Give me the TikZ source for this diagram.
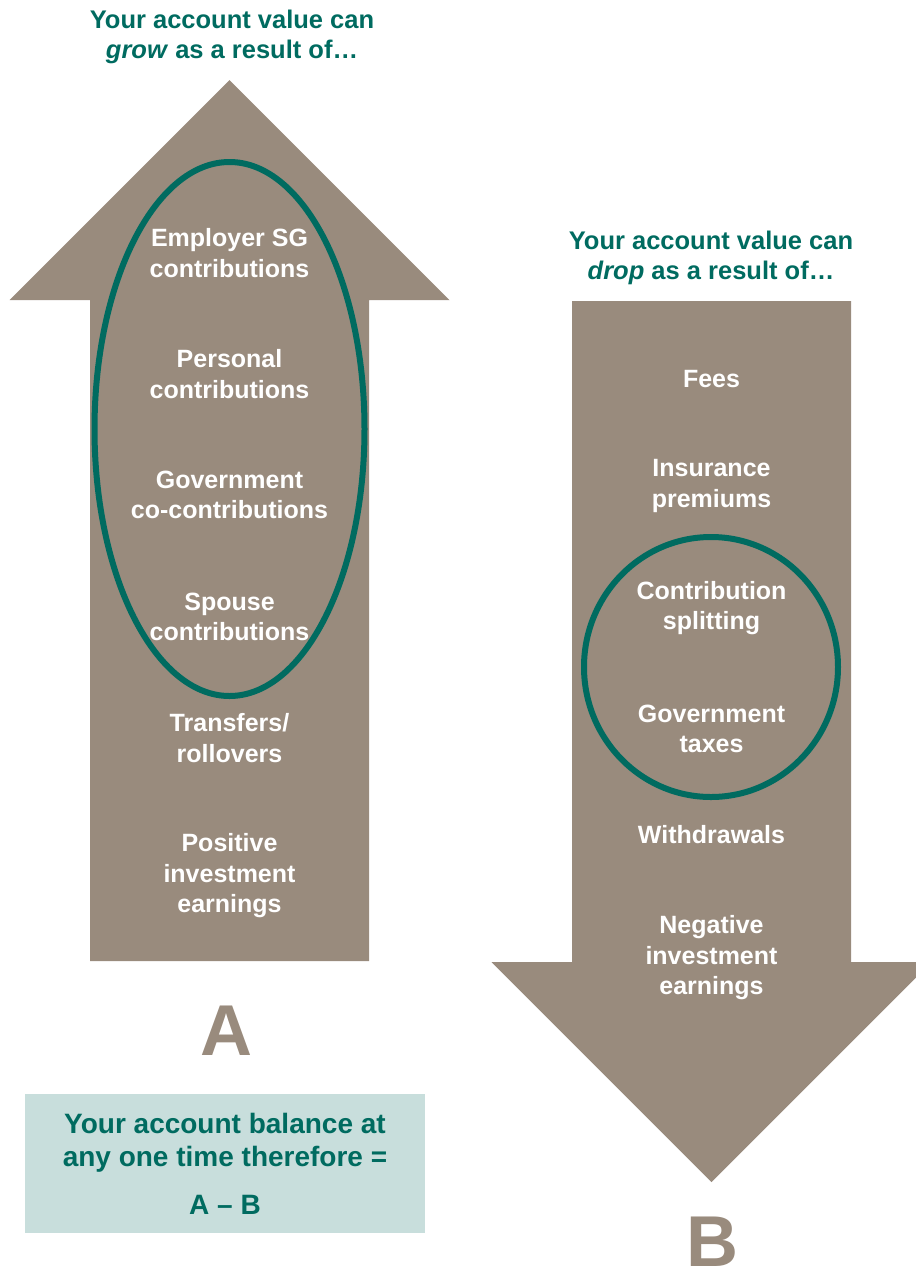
\documentclass[tikz,border=0pt]{standalone}
\usepackage{fontspec}
\setmainfont{Liberation Sans}
\begin{document}
\definecolor{arrowgrey}{HTML}{998B7D}
\definecolor{teal}{HTML}{006B60}
\definecolor{boxteal}{HTML}{C8DEDC}
\begin{tikzpicture}[x=1pt,y=-1pt,
  item/.style={text=white,font=\bfseries\fontsize{25}{30.5}\selectfont,align=center,inner sep=0pt},
  heading/.style={text=teal,font=\bfseries\fontsize{25.5}{30}\selectfont,align=center,inner sep=0pt},
  bigletter/.style={text=arrowgrey,font=\bfseries\fontsize{72}{72}\selectfont,inner sep=0pt,anchor=base},
  ring/.style={draw=teal,line width=6pt}]
\useasboundingbox (0,0) rectangle (916,1270);
\clip (0,0) rectangle (916,1270);

% upward arrow A
\fill[arrowgrey] (90,961) -- (90,300) -- (9.5,300) -- (229.5,80) -- (449.5,300)
  -- (369,300) -- (369,961) -- cycle;
% downward arrow B
\fill[arrowgrey] (572,301) -- (851,301) -- (851,962) -- (931.5,962) -- (711.5,1182)
  -- (491.5,962) -- (572,962) -- cycle;

% headings
\node[heading] (hA) at (232,37) {Your account value can\\\textit{grow} as a result of…};
\node[heading] (hB) at (711,258) {Your account value can\\\textit{drop} as a result of…};

% items of A
\node[item] (a1) at (229.5,253) {Employer SG\\contributions};
\node[item] (a2) at (229.5,374) {Personal\\contributions};
\node[item] (a3) at (229.5,495) {Government\\co-contributions};
\node[item] (a4) at (229.5,617) {Spouse\\contributions};
\node[item] (a5) at (229.5,738) {Transfers/\\rollovers};
\node[item] (a6) at (229.5,876) {Positive\\investment\\earnings};

% items of B
\node[item] (b1) at (711.5,379) {Fees};
\node[item] (b2) at (711.5,486) {Insurance\\premiums};
\node[item] (b3) at (711.5,608) {Contribution\\splitting};
\node[item] (b4) at (711.5,729) {Government\\taxes};
\node[item] (b5) at (711.5,835) {Withdrawals};
\node[item] (b6) at (711.5,958) {Negative\\investment\\earnings};

% rings
\draw[ring] (229.5,429) ellipse [x radius=135, y radius=267];
\draw[ring] (711,667) ellipse [x radius=127, y radius=130];

% letters
\node[bigletter] (A) at (226,1055) {A};
\node[bigletter] (B) at (712,1266) {B};

% summary box
\fill[boxteal] (25,1094) rectangle (425,1233);
\node[heading,font=\bfseries\fontsize{28}{33}\selectfont] (sum) at (225,1143)
  {Your account balance at\\any one time therefore =};
\node[heading,font=\bfseries\fontsize{28}{33}\selectfont] (amb) at (225,1205) {A – B};
\end{tikzpicture}
\end{document}
